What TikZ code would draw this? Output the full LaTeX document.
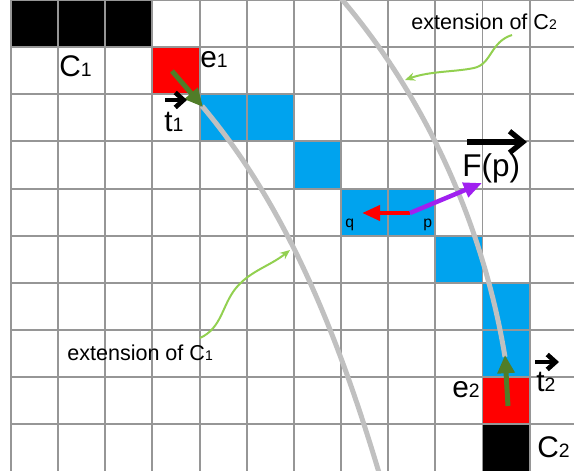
\documentclass[tikz,border=0pt]{standalone}
\usepackage{fontspec}
\setmainfont{Liberation Sans}
\usetikzlibrary{arrows.meta}

\definecolor{cellblue}{RGB}{0,163,238}
\definecolor{gridgray}{RGB}{150,150,150}
\definecolor{curvegray}{RGB}{192,192,192}
\definecolor{tangreen}{RGB}{80,125,40}
\definecolor{notegreen}{RGB}{146,208,80}
\definecolor{fpurple}{RGB}{160,32,240}

\newcommand\ix[1]{\scalebox{0.65}{#1}}

\tikzset{
  lbl/.style={inner sep=0pt, anchor=base west, font=\fontsize{18}{20}\selectfont},
  note/.style={inner sep=0pt, anchor=base west, font=\fontsize{13}{15}\selectfont},
  pq/.style={inner sep=0pt, anchor=base west, font=\fontsize{9.5}{11}\selectfont},
  gridline/.style={gridgray, line width=1.2pt},
  ext/.style={curvegray, line width=3pt},
  tangent/.style={tangreen, line width=3pt, -{Triangle[length=11pt,width=10pt]}},
  vecarrow/.style={line width=2.8pt, -{Straight Barb[length=5pt,width=9pt]}},
  bigvec/.style={line width=3.2pt, -{Straight Barb[length=8pt,width=13pt]}},
  pointer/.style={notegreen, line width=1.2pt, -{Stealth[length=6pt,width=5pt]}},
}

\begin{document}
\begin{tikzpicture}[x=0.21209mm, y=-0.21209mm]
  \useasboundingbox (0,0) rectangle (574,471);
  % cells
  \foreach \col/\row in {0/0,1/0,2/0,10/9}
    \fill[black] (11+47.15*\col,47.15*\row) rectangle ++(47.15,47.15);
  \foreach \col/\row in {3/1,10/8}
    \fill[red] (11+47.15*\col,47.15*\row) rectangle ++(47.15,47.15);
  \foreach \col/\row in {4/2,5/2,6/3,7/4,8/4,9/5,10/6,10/7}
    \fill[cellblue] (11+47.15*\col,47.15*\row) rectangle ++(47.15,47.15);
  % grid
  \foreach \i in {0,...,11}
    \draw[gridline] (11+47.15*\i,0) -- ++(0,471);
  \foreach \j in {0,...,10}
    \draw[gridline] (11,47.15*\j) -- (574,47.15*\j);

  % extensions of the curves
  \draw[ext] (202,106) .. controls (289,209) and (340,342) .. (380,476);
  \draw[ext] (339,-4) .. controls (427,98) and (484,229) .. (505,357);

  % tangents
  \coordinate (a1) at (172,71);
  \coordinate (b1) at (203,107);
  \draw[tangent] (a1) -- (b1);
  \coordinate (a2) at (508,406);
  \coordinate (b2) at (505,355);
  \draw[tangent] (a2) -- (b2);

  % p, q and F(p)
  \coordinate (p) at (410,213);
  \coordinate (q) at (362,213);
  \coordinate (fp) at (482,183);
  \draw[red, line width=2.7pt, -{Triangle[length=11pt,width=9pt]}] (p) -- (q);
  \draw[fpurple, line width=2.7pt, -{Triangle[length=11pt,width=9pt]}] (p) -- (fp);

  % labels
  \node[lbl] (cone) at (59,77) {C\ix{1}};
  \node[lbl] (eone) at (200,68) {e\ix{1}};
  \node[lbl] (tone) at (164,132) {t\ix{1}};
  \draw[vecarrow] ([shift={(1,-32)}]tone.base west) -- ++(22,0);
  \node[note] (exttwo) at (411,30) {extension of C\ix{2}};
  \node[lbl, font=\fontsize{19}{21}\selectfont] (fplab) at (462,177) {F(p)};
  \draw[bigvec] ([shift={(5,-35)}]fplab.base west) -- ++(60,0);
  \node[pq] (qlab) at (345,228) {q};
  \node[pq] (plab) at (423,228) {p};
  \node[note] (extone) at (67,361) {extension of C\ix{1}};
  \node[lbl] (etwo) at (452,398) {e\ix{2}};
  \node[lbl] (ttwo) at (536,392) {t\ix{2}};
  \draw[vecarrow] ([shift={(-1,-30)}]ttwo.base west) -- ++(24,0);
  \node[lbl] (ctwo) at (537,458) {C\ix{2}};

  % pointers from the notes
  \coordinate (s2) at (512,35);
  \coordinate (h2) at (405,80);
  \draw[pointer] (s2) .. controls (490,42) and (492,64) .. (474,68)
    .. controls (455,72) and (430,71) .. (h2);
  \coordinate (s1) at (200,338);
  \coordinate (h1) at (290,250);
  \draw[pointer] (s1) .. controls (222,328) and (222,305) .. (236,288)
    .. controls (250,271) and (270,266) .. (h1);
\end{tikzpicture}
\end{document}
